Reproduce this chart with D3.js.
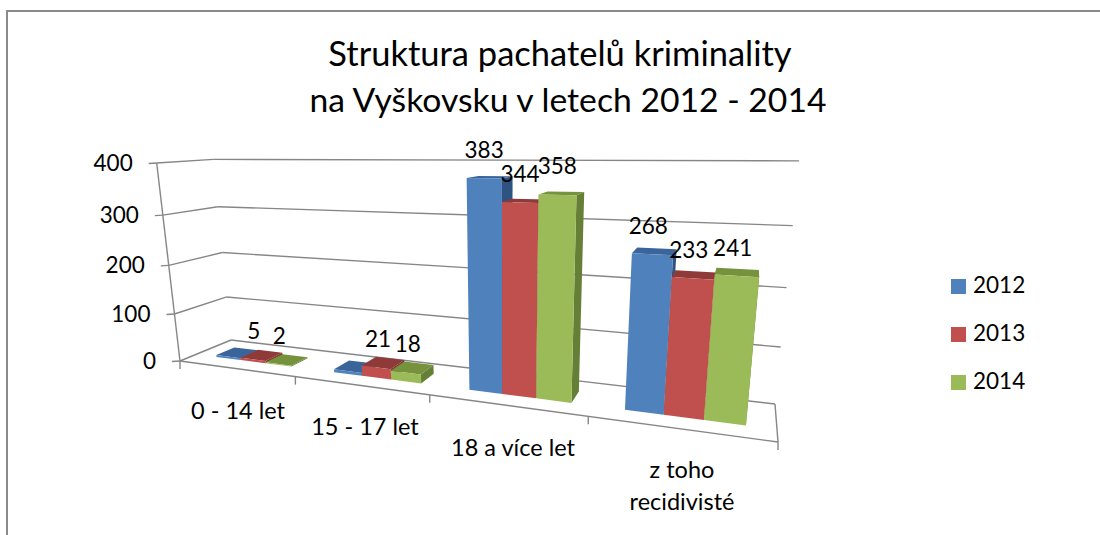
<!DOCTYPE html>
<html>
<head>
<meta charset="utf-8">
<script src="https://cdn.jsdelivr.net/npm/d3@7"></script>
<style>
  html, body { margin: 0; background: #fff; }
  svg { display: block; }
  text { font-family: Lato, "Open Sans", sans-serif; fill: #000; }
  .grid { stroke: #868686; stroke-width: 1.4; fill: none; }
</style>
</head>
<body>
<svg width="1100" height="535"></svg>
<script>
var titleLines = ["Struktura pachatelů kriminality", "na Vyškovsku v letech 2012 - 2014"];
var categories = ["0 - 14 let", "15 - 17 let", "18 a více let", "z toho recidivisté"];
var years = ["2012", "2013", "2014"];
var values2012 = [4, 6, 383, 268];
var values2013 = [5, 21, 344, 233];
var values2014 = [2, 18, 358, 241];
var shownLabels2012 = [false, false, true, true];
var shownLabels2013 = [true, true, true, true];
var shownLabels2014 = [true, true, true, true];
var yTicks = [0, 100, 200, 300, 400];

var frontColors = ["#4f81bd", "#c0504d", "#9bbb59"];
var topColors = ["#3a659b", "#8f3a38", "#76923c"];
var sideColors = ["#2f5380", "#7d2f2d", "#667f36"];

var svg = d3.select("svg");

// floor corners and wall tops
var floorCorners = [[180, 361], [778, 442], [775, 404], [231, 340]];
var wallTops = [
    { x: 0, z: 0, p: [157, 161] },
    { x: 0, z: 1, p: [213, 156] },
    { x: 1, z: 1, p: [799, 168] }
];

// unit square -> quad, returns 3x3 as columns a, b, c (x, z, 1)
function squareToQuad(q) {
    var x0 = q[0][0], y0 = q[0][1], x1 = q[1][0], y1 = q[1][1];
    var x2 = q[2][0], y2 = q[2][1], x3 = q[3][0], y3 = q[3][1];
    var dx1 = x1 - x2, dx2 = x3 - x2, sx = x0 - x1 + x2 - x3;
    var dy1 = y1 - y2, dy2 = y3 - y2, sy = y0 - y1 + y2 - y3;
    var det = dx1 * dy2 - dx2 * dy1;
    var g = (sx * dy2 - dx2 * sy) / det;
    var h = (dx1 * sy - sx * dy1) / det;
    return {
        a: [x1 - x0 + g * x1, y1 - y0 + g * y1, g],
        b: [x3 - x0 + h * x3, y3 - y0 + h * y3, h],
        c: [x0, y0, 1]
    };
}

var H = squareToQuad(floorCorners);

// y column by least squares over the wall top points
function fitYColumn() {
    var rows = [], rhs = [];
    wallTops.forEach(function(t) {
        var n = [0, 1, 2].map(function(i) { return H.a[i] * t.x + H.b[i] * t.z + H.c[i]; });
        rows.push([1, 0, -t.p[0]]); rhs.push(t.p[0] * n[2] - n[0]);
        rows.push([0, 1, -t.p[1]]); rhs.push(t.p[1] * n[2] - n[1]);
    });
    var A = [[0, 0, 0], [0, 0, 0], [0, 0, 0]], B = [0, 0, 0];
    rows.forEach(function(r, k) {
        for (var i = 0; i < 3; i++) {
            B[i] += r[i] * rhs[k];
            for (var j = 0; j < 3; j++) A[i][j] += r[i] * r[j];
        }
    });
    for (var i = 0; i < 3; i++) {
        for (var k = i + 1; k < 3; k++) {
            var f = A[k][i] / A[i][i];
            for (var j = i; j < 3; j++) A[k][j] -= f * A[i][j];
            B[k] -= f * B[i];
        }
    }
    var d = [0, 0, 0];
    for (var i = 2; i >= 0; i--) {
        var s = B[i];
        for (var j = i + 1; j < 3; j++) s -= A[i][j] * d[j];
        d[i] = s / A[i][i];
    }
    return d;
}
var D = fitYColumn();

var yScale = d3.scaleLinear().domain([0, 400]).range([0, 1]);
var barScale = d3.scaleLinear().domain([0, 400]).range([0, 392]); // bars sit a bit short of the wall grid
var xBand = d3.scaleBand().domain(categories).range([0, 1]);
var xSeries = d3.scaleBand().domain(years).range([0, 1]).paddingOuter(0.77).paddingInner(0);
var zFront = 0.3, zBack = 0.66;
var bandShift = [0.005, 0.008, 0.008, 0.003];

function project(x, v, z) {
    var y = yScale(v);
    var n = [0, 1, 2].map(function(i) { return H.a[i] * x + D[i] * y + H.b[i] * z + H.c[i]; });
    return [n[0] / n[2], n[1] / n[2]];
}

function line(a, b, cls) {
    svg.append("line").attr("class", cls || "grid")
        .attr("x1", a[0]).attr("y1", a[1]).attr("x2", b[0]).attr("y2", b[1]);
}

// chart frame
svg.append("path")
    .attr("d", "M7,535V11H1100")
    .attr("fill", "none").attr("stroke", "#8a8a8a").attr("stroke-width", 2);

// walls
yTicks.forEach(function(t) {
    line(project(0, t, 0), project(0, t, 1));
    line(project(0, t, 1), project(1, t, 1));
    var p = project(0, t, 0);
    line([p[0] - 8, p[1] + 0.5], p);
    svg.append("text").attr("x", p[0] - 24).attr("y", p[1] + 2)
        .attr("text-anchor", "end").attr("dominant-baseline", "middle")
        .attr("font-size", 22.5).text(t);
});
line(project(0, 0, 0), project(0, 400, 0));
line(project(0, 0, 0), project(1, 0, 0));
line(project(1, 0, 0), project(1, 0, 1));

// category ticks
d3.range(categories.length + 1).forEach(function(i) {
    var p = project(i / categories.length, 0, 0);
    line(p, [p[0], p[1] + 8]);
});

var allValues = [values2012, values2013, values2014];
var allShown = [shownLabels2012, shownLabels2013, shownLabels2014];

function face(pts, color) {
    svg.append("polygon")
        .attr("points", pts.map(function(p) { return p.join(","); }).join(" "))
        .attr("fill", color);
}

// bars, left to right so the neighbour covers the side face
categories.forEach(function(cat, c) {
    years.forEach(function(yr, s) {
        var v = barScale(allValues[s][c]);
        var x0 = xBand(cat) + bandShift[c] + xBand.bandwidth() * xSeries(yr);
        var x1 = x0 + xBand.bandwidth() * xSeries.bandwidth();
        face([project(x1, 0, zFront), project(x1, 0, zBack), project(x1, v, zBack), project(x1, v, zFront)], sideColors[s]);
        face([project(x0, v, zFront), project(x1, v, zFront), project(x1, v, zBack), project(x0, v, zBack)], topColors[s]);
        face([project(x0, 0, zFront), project(x1, 0, zFront), project(x1, v, zFront), project(x0, v, zFront)], frontColors[s]);
    });
});

// data labels
var labelDx = [1, 2, 0, -4];
categories.forEach(function(cat, c) {
    years.forEach(function(yr, s) {
        if (!allShown[s][c]) return;
        var v = allValues[s][c];
        var x = xBand(cat) + bandShift[c] + xBand.bandwidth() * (xSeries(yr) + xSeries.bandwidth() / 2);
        var p = project(x, barScale(v), zFront);
        svg.append("text").attr("x", p[0] + labelDx[c]).attr("y", p[1] - 26)
            .attr("text-anchor", "middle").attr("dominant-baseline", "middle")
            .attr("font-size", 22.5).text(v);
    });
});

// category labels
var catAnchor = [238, 365, 513, 682];
var catY = [413, 429, 450, 472];
categories.forEach(function(cat, c) {
    var words = c === 3 ? ["z toho", "recidivisté"] : [cat];
    words.forEach(function(w, i) {
        svg.append("text").attr("x", catAnchor[c]).attr("y", catY[c] + i * 32)
            .attr("text-anchor", "middle").attr("dominant-baseline", "middle")
            .attr("font-size", 23.5).text(w);
    });
});

// title
titleLines.forEach(function(t, i) {
    svg.append("text").attr("x", i === 0 ? 560 : 568).attr("y", 57 + i * 46)
        .attr("text-anchor", "middle").attr("dominant-baseline", "middle")
        .attr("font-size", i === 0 ? 34.5 : 33.7).text(t);
});

// legend
years.forEach(function(yr, s) {
    var y = 286 + s * 48;
    svg.append("rect").attr("x", 951).attr("y", y - 7).attr("width", 15).attr("height", 15).attr("fill", frontColors[s]);
    svg.append("text").attr("x", 973).attr("y", y + 1).attr("dominant-baseline", "middle")
        .attr("font-size", 22.5).text(yr);
});
</script>
</body>
</html>
